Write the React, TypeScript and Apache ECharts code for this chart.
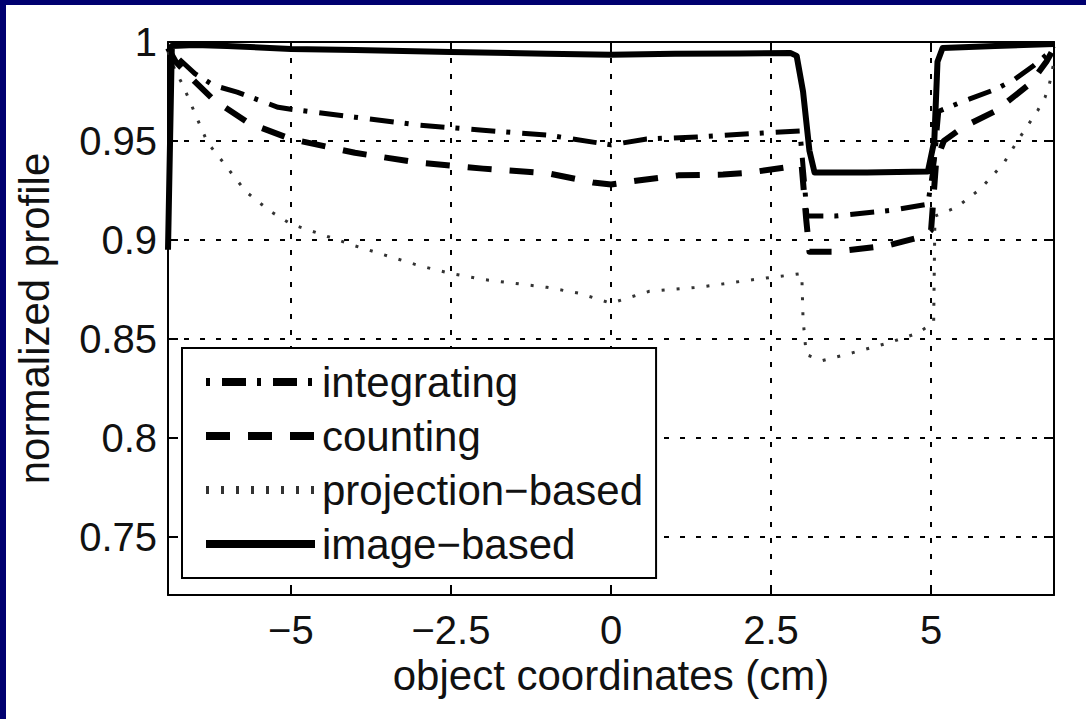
import { useEffect, useRef } from 'react';
import * as echarts from 'echarts';

const xTicks = [-5, -2.5, 0, 2.5, 5];
const yTicks = [0.75, 0.8, 0.85, 0.9, 0.95, 1];
const seriesNames = ['integrating', 'counting', 'projection\u2212based', 'image\u2212based'];

const integrating = [
  [-6.92, 0.997], [-6.8, 0.993], [-6.5, 0.984], [-6.2, 0.978], [-5.84, 0.9747], [-5.2, 0.967],
  [-5, 0.966], [-4, 0.962], [-3, 0.958], [-2, 0.9554], [-1, 0.953], [-0.28, 0.9494], [0, 0.948],
  [0.56, 0.951], [1.34, 0.952], [2.37, 0.954], [2.95, 0.955], [3.02, 0.93], [3.06, 0.912],
  [3.5, 0.912], [4.4, 0.915], [4.95, 0.918], [5.05, 0.94], [5.12, 0.965], [5.5, 0.97],
  [6.0, 0.976], [6.3, 0.981], [6.6, 0.988], [6.82, 0.994], [6.92, 0.998],
];

const counting = [
  [-6.92, 0.997], [-6.8, 0.99], [-6.5, 0.98], [-6.2, 0.9706], [-5.66, 0.959], [-5, 0.951],
  [-4, 0.944], [-3, 0.939], [-2, 0.936], [-1, 0.9337], [-0.28, 0.929], [0, 0.928], [0.42, 0.93],
  [1.05, 0.9326], [1.75, 0.933], [2.17, 0.934], [2.8, 0.937], [2.98, 0.937], [3.05, 0.91],
  [3.1, 0.894], [3.5, 0.894], [4.3, 0.897], [4.9, 0.902], [5.0, 0.905], [5.08, 0.94],
  [5.2, 0.95], [5.5, 0.957], [6.0, 0.965], [6.55, 0.979], [6.8, 0.99], [6.92, 0.997],
];

const projection = [
  [-6.92, 0.995], [-6.8, 0.985], [-6.7, 0.979], [-6.6, 0.9716], [-6.5, 0.964], [-6.4, 0.9565],
  [-6.3, 0.949], [-6.15, 0.943], [-6.0, 0.9367], [-5.84, 0.93], [-5.69, 0.924], [-5.5, 0.919],
  [-5.3, 0.914], [-5, 0.908], [-4, 0.897], [-3, 0.887], [-2.5, 0.883], [-2, 0.88], [-1, 0.876],
  [-0.5, 0.873], [0, 0.868], [0.6, 0.874], [1.36, 0.876], [2.25, 0.88], [2.75, 0.882],
  [2.98, 0.883], [3.0, 0.86], [3.05, 0.842], [3.3, 0.839], [3.78, 0.843], [4.3, 0.8476],
  [4.77, 0.8526], [5.04, 0.858], [5.06, 0.912], [5.4, 0.9165], [5.78, 0.926], [6.14, 0.939],
  [6.35, 0.95], [6.67, 0.9656], [6.78, 0.972], [6.85, 0.979], [6.92, 0.99],
];

const imageBased = [
  [-6.92, 0.895], [-6.86, 0.998], [-6.5, 0.9985], [-6, 0.998], [-5, 0.9965], [-4, 0.996],
  [-2.5, 0.995], [-1, 0.994], [0, 0.9935], [1, 0.994], [2, 0.9942], [2.8, 0.9945], [2.9, 0.993],
  [3.0, 0.975], [3.1, 0.945], [3.18, 0.934], [4, 0.934], [4.95, 0.9345], [5.05, 0.95],
  [5.1, 0.99], [5.18, 0.997], [6, 0.998], [6.92, 0.999],
];

const X_MIN = -6.92;
const X_MAX = 6.92;
const Y_MIN = 0.7205;
const Y_MAX = 1;

const FONT = "'Liberation Sans', Arial, Helvetica, sans-serif";

export default function App() {
  const ref = useRef<HTMLDivElement>(null);
  useEffect(() => {
    if (!ref.current) return;
    const chart = echarts.init(ref.current, undefined, { renderer: 'svg' });
    const axisLine = { show: true, onZero: false, lineStyle: { color: '#000', width: 2 } };
    const tickStyle = { show: true, inside: true, length: 10, lineStyle: { color: '#000', width: 2 } };
    const gridLine = { show: true, lineStyle: { color: '#000', width: 2, type: [5, 11] } };
    const minus = (v: number) => String(v).replace('-', '\u2212');
    chart.setOption({
      animation: false,
      backgroundColor: '#fff',
      textStyle: { fontFamily: FONT },
      graphic: [
        { type: 'rect', shape: { x: 0, y: 0, width: 1086, height: 5 }, style: { fill: '#000070' }, z: 100 },
        { type: 'rect', shape: { x: 0, y: 0, width: 6, height: 719 }, style: { fill: '#000070' }, z: 100 },
      ],
      grid: { left: 168, top: 42, width: 886, height: 553, show: false },
      legend: {
        data: seriesNames,
        orient: 'vertical',
        left: 182,
        top: 348,
        padding: [13, 13, 13, 20],
        itemGap: 12,
        itemWidth: 109,
        itemHeight: 20,
        backgroundColor: '#fff',
        borderColor: '#000',
        borderWidth: 2,
        borderRadius: 0,
        lineStyle: { width: 8 },
        itemStyle: { opacity: 0 },
        textStyle: { fontSize: 42, color: '#111', fontFamily: FONT, padding: [0, 0, 0, 2] },
        selectedMode: false,
        z: 10,
      },
      xAxis: [
        {
          type: 'value', min: X_MIN, max: X_MAX, position: 'bottom',
          name: 'object coordinates (cm)', nameLocation: 'middle', nameGap: 54,
          nameTextStyle: { fontSize: 42, color: '#111', fontFamily: FONT },
          axisLine,
          axisTick: { ...tickStyle, customValues: xTicks },
          axisLabel: { customValues: xTicks, formatter: minus, fontSize: 40, color: '#111', margin: 15, fontFamily: FONT },
          splitLine: gridLine,
        },
        {
          type: 'value', min: X_MIN, max: X_MAX, position: 'top',
          axisLine,
          axisTick: { ...tickStyle, customValues: xTicks },
          axisLabel: { show: false },
          splitLine: { show: false },
        },
      ],
      yAxis: [
        {
          type: 'value', min: Y_MIN, max: Y_MAX, position: 'left',
          name: 'normalized profile', nameLocation: 'middle', nameGap: 113,
          nameTextStyle: { fontSize: 42, color: '#111', fontFamily: FONT },
          axisLine,
          axisTick: { ...tickStyle, customValues: yTicks },
          axisLabel: { customValues: yTicks, fontSize: 40, color: '#111', margin: 11, fontFamily: FONT },
          splitLine: gridLine,
        },
        {
          type: 'value', min: Y_MIN, max: Y_MAX, position: 'right',
          axisLine,
          axisTick: { ...tickStyle, customValues: yTicks },
          axisLabel: { show: false },
          splitLine: { show: false },
        },
      ],
      series: [
        {
          name: seriesNames[0], type: 'line', data: integrating, showSymbol: false, symbol: 'none',
          itemStyle: { color: '#000' },
          lineStyle: { color: '#000', width: 5, type: [4, 12, 24, 11], join: 'round' },
        },
        {
          name: seriesNames[1], type: 'line', data: counting, showSymbol: false, symbol: 'none',
          itemStyle: { color: '#000' },
          lineStyle: { color: '#000', width: 6, type: [24, 18], join: 'round' },
        },
        {
          name: seriesNames[2], type: 'line', data: projection, showSymbol: false, symbol: 'none',
          itemStyle: { color: '#000' },
          lineStyle: { color: '#333', width: 3, type: [3, 12], join: 'round' },
        },
        {
          name: seriesNames[3], type: 'line', data: imageBased, showSymbol: false, symbol: 'none',
          itemStyle: { color: '#000' },
          lineStyle: { color: '#000', width: 6, type: 'solid', join: 'round' },
        },
      ],
    });
    return () => chart.dispose();
  }, []);
  return (
    <div
      ref={ref}
      style={{ position: 'fixed', left: 0, top: 0, width: 1086, height: 719, background: '#fff' }}
    />
  );
}
